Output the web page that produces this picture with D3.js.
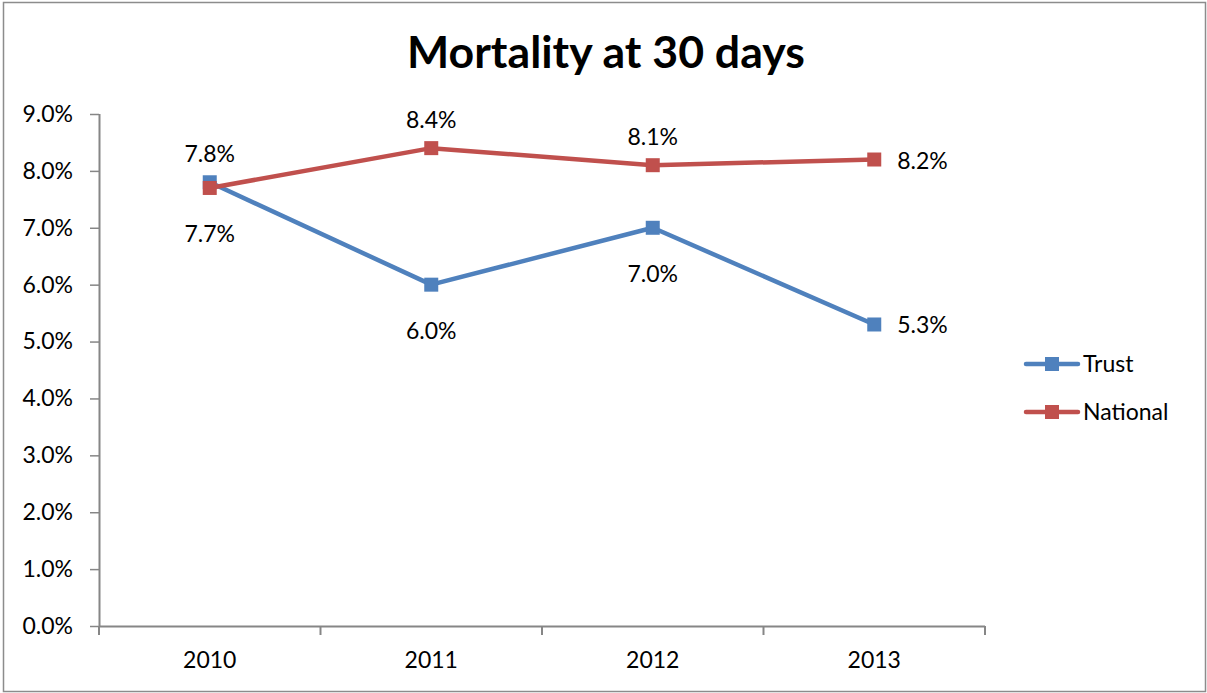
<!DOCTYPE html>
<html>
<head>
<meta charset="utf-8">
<script src="https://cdn.jsdelivr.net/npm/d3@7"></script>
<style>
  body { margin: 0; background: #fff; }
  svg text { font-family: Lato, "Open Sans", sans-serif; fill: #000; }
</style>
</head>
<body>
<svg id="chart" width="1207" height="693"></svg>
<script>
// chart data
var years = ["2010", "2011", "2012", "2013"];
var trust = [7.8, 6.0, 7.0, 5.3];
var national = [7.7, 8.4, 8.1, 8.2];
var yTicks = [0, 1, 2, 3, 4, 5, 6, 7, 8, 9];
// where each data label sits: above, below or right of its point
var trustLabelPos = ["above", "below", "below", "right"];
var nationalLabelPos = ["below", "above", "above", "right"];

var fontSize = 23;
var svg = d3.select("#chart");

// outer frame
svg.append("rect")
  .attr("x", 3.5).attr("y", 2.5)
  .attr("width", 1202).attr("height", 689)
  .attr("fill", "none")
  .attr("stroke", "#8c8c8c")
  .attr("stroke-width", 1.5);

// title, sized to match the reference width
var title = svg.append("text")
  .attr("x", 606).attr("y", 68)
  .attr("text-anchor", "middle")
  .attr("font-weight", "bold")
  .attr("font-size", 38)
  .text("Mortality at 30 days");
var tw = title.node().getComputedTextLength();
title.attr("font-size", 38 * 398 / tw);

var plotLeft = 99, plotRight = 985, plotTop = 114, plotBottom = 626;

var x = d3.scaleBand().domain(years).range([plotLeft, plotRight]);
var y = d3.scaleLinear().domain([0, 9]).range([plotBottom, plotTop]);
var cx = function(d, i) { return x(years[i]) + x.bandwidth() / 2; };

// y axis
var yAxis = svg.append("g")
  .attr("transform", "translate(" + plotLeft + ",0)")
  .call(d3.axisLeft(y).tickValues(yTicks).tickSize(9).tickPadding(17)
    .tickFormat(function(d) { return d.toFixed(1) + "%"; }));
yAxis.selectAll("path").attr("d", "M0.5," + plotTop + "V" + plotBottom);

// x axis
var xAxis = svg.append("g")
  .attr("transform", "translate(0," + plotBottom + ")")
  .call(d3.axisBottom(x).tickSize(0).tickPadding(26));
xAxis.select("path").attr("d", "M" + plotLeft + ",0.5H" + plotRight);
// tick marks between categories
xAxis.selectAll(".sep")
  .data(d3.range(years.length + 1))
  .enter().append("line")
  .attr("class", "sep")
  .attr("x1", function(i) { return plotLeft + i * x.step(); })
  .attr("x2", function(i) { return plotLeft + i * x.step(); })
  .attr("y1", 0).attr("y2", 9);

svg.selectAll(".tick text").attr("font-size", fontSize).attr("fill", "#000");
svg.selectAll("g path.domain, g .tick line, g line.sep")
  .attr("stroke", "#868686").attr("stroke-width", 2);
yAxis.selectAll(".tick line").attr("stroke-width", 1.5);

function drawSeries(vals, color, labelPos) {
  var line = d3.line()
    .x(function(d, i) { return cx(d, i); })
    .y(function(d) { return y(d); });
  svg.append("path")
    .datum(vals)
    .attr("fill", "none")
    .attr("stroke", color)
    .attr("stroke-width", 4.5)
    .attr("stroke-linejoin", "round")
    .attr("d", line);
  svg.append("g").selectAll("rect")
    .data(vals)
    .enter().append("rect")
    .attr("x", function(d, i) { return cx(d, i) - 7; })
    .attr("y", function(d) { return y(d) - 7; })
    .attr("width", 14).attr("height", 14)
    .attr("fill", color);
  svg.append("g").selectAll("text")
    .data(vals)
    .enter().append("text")
    .attr("font-size", fontSize)
    .attr("text-anchor", function(d, i) { return labelPos[i] == "right" ? "start" : "middle"; })
    .attr("x", function(d, i) { return labelPos[i] == "right" ? cx(d, i) + 23 : cx(d, i); })
    .attr("y", function(d, i) {
      if (labelPos[i] == "above") return y(d) - 20;
      if (labelPos[i] == "below") return y(d) + 54;
      return y(d) + 9;
    })
    .text(function(d) { return d.toFixed(1) + "%"; });
}

drawSeries(trust, "#4f81bd", trustLabelPos);
drawSeries(national, "#c0504d", nationalLabelPos);

// legend
var legend = [{ name: "Trust", color: "#4f81bd", y: 364 },
              { name: "National", color: "#c0504d", y: 412 }];
var lg = svg.append("g").selectAll("g").data(legend).enter().append("g");
lg.append("line")
  .attr("x1", 1026).attr("x2", 1078)
  .attr("y1", function(d) { return d.y; }).attr("y2", function(d) { return d.y; })
  .attr("stroke", function(d) { return d.color; })
  .attr("stroke-width", 4.5).attr("stroke-linecap", "round");
lg.append("rect")
  .attr("x", 1045).attr("y", function(d) { return d.y - 7; })
  .attr("width", 14).attr("height", 14)
  .attr("fill", function(d) { return d.color; });
lg.append("text")
  .attr("x", 1083).attr("y", function(d) { return d.y + 8; })
  .attr("font-size", fontSize)
  .text(function(d) { return d.name; });
</script>
</body>
</html>
